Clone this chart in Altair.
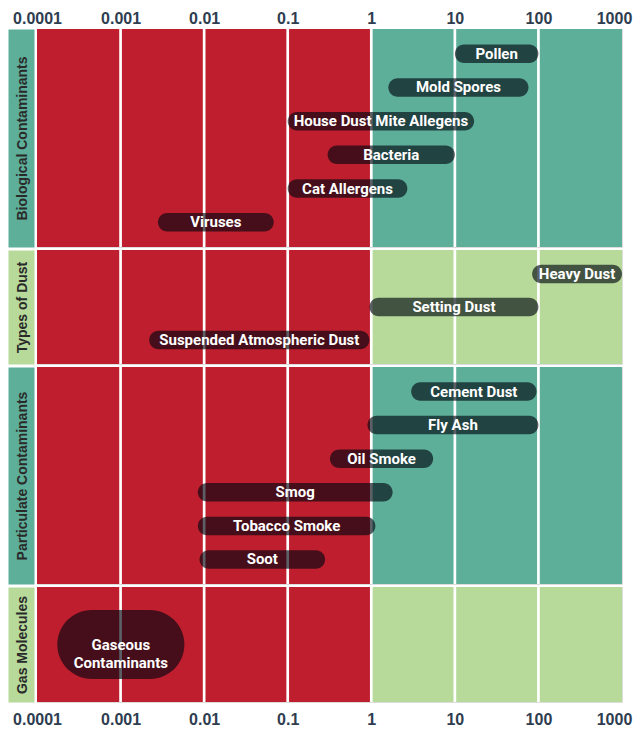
import altair as alt
import pandas as pd

# ---- data ----
tick_values = [0.0001, 0.001, 0.01, 0.1, 1, 10, 100, 1000]
tick_labels = ["0.0001", "0.001", "0.01", "0.1", "1", "10", "100", "1000"]

group_names = ["Biological Contaminants", "Types of Dust", "Particulate Contaminants", "Gas Molecules"]
group_colors = ["#5DAF99", "#B7DA9B", "#5DAF99", "#B7DA9B"]

zone_lo = [0.0001, 1]
zone_hi = [1, 1000]
red = "#BE1E2D"

bio_items = ["Pollen", "Mold Spores", "House Dust Mite Allegens", "Bacteria", "Cat Allergens", "Viruses"]
bio_lo = [10, 1.6, 0.1, 0.3, 0.1, 0.0028]
bio_hi = [100, 76, 17, 10, 2.7, 0.068]

dust_items = ["Heavy Dust", "Setting Dust", "Suspended Atmospheric Dust"]
dust_lo = [84, 0.95, 0.0022]
dust_hi = [1000, 100, 0.95]

part_items = ["Cement Dust", "Fly Ash", "Oil Smoke", "Smog", "Tobacco Smoke", "Soot"]
part_lo = [3.0, 0.9, 0.32, 0.0084, 0.0084, 0.0088]
part_hi = [95, 100, 5.5, 1.8, 1.12, 0.28]

gas_items = ["Gaseous Contaminants"]
gas_labels = ["Gaseous\nContaminants"]
gas_lo = [0.000175]
gas_hi = [0.0058]

LABEL_FONT = "Roboto"
AXIS_FONT = "Liberation Sans"

row_heights = [218, 114, 217, 115]


def row_chart(idx, items, labels, lo, hi, bar_h, first, last):
    color = group_colors[idx]
    height = row_heights[idx]
    df = pd.DataFrame({"item": items, "label": labels, "lo": lo, "hi": hi})
    zones = pd.DataFrame({"lo": zone_lo, "hi": zone_hi, "fill": [red, color]})
    grid = pd.DataFrame({"v": tick_values[1:-1]})

    xscale = alt.Scale(type="log", domain=[tick_values[0], tick_values[-1]], nice=False)
    if first or last:
        label_expr = "{" + ",".join(f"'{v}':'{l}'" for v, l in zip(tick_values, tick_labels)) + "}"
        xaxis = alt.Axis(
            orient="top" if first else "bottom",
            values=tick_values,
            labelExpr=f"({label_expr})[datum.value + '']",
            title=None, ticks=False, domain=False, grid=False,
            labelFont=AXIS_FONT, labelFontSize=16, labelFontWeight="bold",
            labelColor="#2E3D4F", labelPadding=3 if first else 9,
            labelFlush=False, labelOverlap=False,
            labelOffset={"condition": {"test": "datum.value >= 1000", "value": -8}, "value": 0},
        )
    else:
        xaxis = None

    yaxis = alt.Axis(
        title=group_names[idx], labels=False, ticks=False, grid=False,
        domain=True, domainColor=color, domainWidth=26, offset=16, minExtent=0,
        titleAngle=270, titleFont=AXIS_FONT, titleFontSize=14, titleFontWeight="bold",
        titleColor="#2A2A2A", titleX=1.5, titleY=height / 2,
        titleAlign="center", titleBaseline="middle",
    )
    yenc = alt.Y("item:N", sort=items, axis=yaxis,
                 scale=alt.Scale(type="point", padding=0.73))

    bg = alt.Chart(zones).mark_rect().encode(
        x=alt.X("lo:Q", scale=xscale, axis=xaxis),
        x2="hi:Q",
        color=alt.Color("fill:N", scale=None),
    )
    rules = alt.Chart(grid).mark_rule(color="white", strokeWidth=2.7).encode(
        x=alt.X("v:Q", scale=xscale, axis=xaxis),
    )
    bars = alt.Chart(df).mark_bar(
        color="#000610", opacity=0.64, size=bar_h, cornerRadius=bar_h / 2
    ).encode(
        x=alt.X("lo:Q", scale=xscale, axis=xaxis),
        x2="hi:Q",
        y=yenc,
    )
    text = alt.Chart(df).transform_calculate(
        mid="sqrt(datum.lo * datum.hi)"
    ).mark_text(
        color="white", font=LABEL_FONT, fontWeight="bold", fontSize=15,
        lineBreak="\n", lineHeight=18, baseline="middle", align="center",
    ).encode(
        x=alt.X("mid:Q", scale=xscale, axis=xaxis),
        y=yenc,
        text="label:N",
    )
    return alt.layer(bg, rules, bars, text).properties(width=585, height=height)


rows = [
    row_chart(0, bio_items, bio_items, bio_lo, bio_hi, 18.5, True, False),
    row_chart(1, dust_items, dust_items, dust_lo, dust_hi, 18.5, False, False),
    row_chart(2, part_items, part_items, part_lo, part_hi, 18.5, False, False),
    row_chart(3, gas_items, gas_labels, gas_lo, gas_hi, 69, False, True),
]

chart = alt.vconcat(*rows, spacing=3, bounds="flush").properties(
    padding={"left": 4, "top": 1, "right": 0, "bottom": 0}
).configure_view(stroke=None).configure(background="white")

chart.save("out.html", embed_options={"renderer": "svg", "actions": False})
